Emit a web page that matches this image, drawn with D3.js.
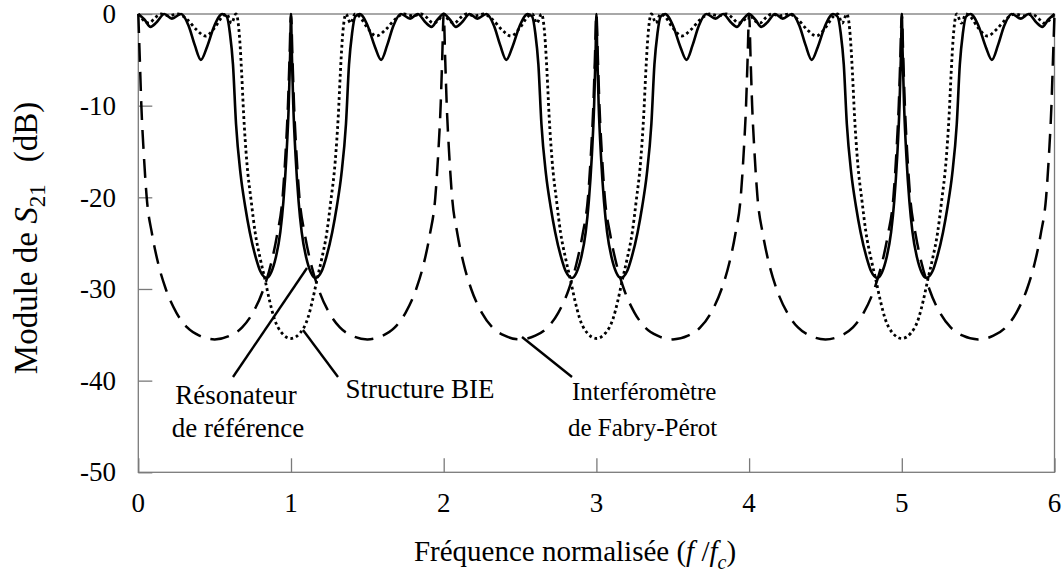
<!DOCTYPE html>
<html><head><meta charset="utf-8">
<script src="https://cdn.jsdelivr.net/npm/d3@7"></script>
<style>body{margin:0;background:#fff}svg{display:block}</style>
</head><body>
<script>
const xTicks = [0,1,2,3,4,5,6];
const yTicks = [0,-10,-20,-30,-40,-50];
const xTickLabels = ["0","1","2","3","4","5","6"];
const yTickLabels = ["0","-10","-20","-30","-40","-50"];

// Résonateur de référence (solid)
const resF = [0,0.04,0.08,0.12,0.17,0.22,0.28,0.33,0.37,0.41,0.45,0.5,0.55,0.58,0.6,0.62,0.64,0.67,0.7,0.73,0.77,0.8,0.84,0.87,0.9,0.93,0.95,0.97,0.985,0.995,1,1.005,1.015,1.03,1.05,1.07,1.1,1.13,1.16,1.2,1.23,1.27,1.3,1.33,1.36,1.38,1.4,1.42,1.45,1.5,1.55,1.59,1.63,1.67,1.72,1.78,1.83,1.88,1.92,1.96,
2,2.04,2.08,2.12,2.17,2.22,2.28,2.33,2.37,2.41,2.45,2.5,2.55,2.58,2.6,2.62,2.64,2.67,2.7,2.73,2.77,2.8,2.84,2.87,2.9,2.93,2.95,2.97,2.985,2.995,3,3.005,3.015,3.03,3.05,3.07,3.1,3.13,3.16,3.2,3.23,3.27,3.3,3.33,3.36,3.38,3.4,3.42,3.45,3.5,3.55,3.59,3.63,3.67,3.72,3.78,3.83,3.88,3.92,3.96,
4,4.04,4.08,4.12,4.17,4.22,4.28,4.33,4.37,4.41,4.45,4.5,4.55,4.58,4.6,4.62,4.64,4.67,4.7,4.73,4.77,4.8,4.84,4.87,4.9,4.93,4.95,4.97,4.985,4.995,5,5.005,5.015,5.03,5.05,5.07,5.1,5.13,5.16,5.2,5.23,5.27,5.3,5.33,5.36,5.38,5.4,5.42,5.45,5.5,5.55,5.59,5.63,5.67,5.72,5.78,5.83,5.88,5.92,5.96,6];
const resDB = [0,-0.6,-1.4,-0.9,0,-0.5,0,-1.3,-3.4,-5,-3.6,-1.2,0,-0.3,-2.1,-5.5,-12,-17.5,-21,-23.8,-26.6,-28.1,-28.8,-28.2,-26.6,-23.8,-20.5,-15.5,-10,-4,0,-4,-10,-15.5,-20.5,-23.8,-26.6,-28.2,-28.8,-28.1,-26.6,-23.8,-21,-17.5,-12,-5.5,-2.1,-0.3,0,-1.2,-3.6,-5,-3.4,-1.3,0,-0.5,0,-0.9,-1.4,-0.6,
0,-0.6,-1.4,-0.9,0,-0.5,0,-1.3,-3.4,-5,-3.6,-1.2,0,-0.3,-2.1,-5.5,-12,-17.5,-21,-23.8,-26.6,-28.1,-28.8,-28.2,-26.6,-23.8,-20.5,-15.5,-10,-4,0,-4,-10,-15.5,-20.5,-23.8,-26.6,-28.2,-28.8,-28.1,-26.6,-23.8,-21,-17.5,-12,-5.5,-2.1,-0.3,0,-1.2,-3.6,-5,-3.4,-1.3,0,-0.5,0,-0.9,-1.4,-0.6,
0,-0.6,-1.4,-0.9,0,-0.5,0,-1.3,-3.4,-5,-3.6,-1.2,0,-0.3,-2.1,-5.5,-12,-17.5,-21,-23.8,-26.6,-28.1,-28.8,-28.2,-26.6,-23.8,-20.5,-15.5,-10,-4,0,-4,-10,-15.5,-20.5,-23.8,-26.6,-28.2,-28.8,-28.1,-26.6,-23.8,-21,-17.5,-12,-5.5,-2.1,-0.3,0,-1.2,-3.6,-5,-3.4,-1.3,0,-0.5,0,-0.9,-1.4,-0.6,0];

// Structure BIE (dotted)
const bieF = [0,0.035,0.07,0.11,0.15,0.2,0.26,0.32,0.38,0.44,0.5,0.55,0.58,0.61,0.64,0.665,0.677,0.69,0.71,0.74,0.765,0.8,0.83,0.86,0.89,0.94,1,1.06,1.11,1.14,1.17,1.2,1.235,1.26,1.29,1.31,1.323,1.335,1.36,1.39,1.42,1.45,1.5,1.56,1.62,1.68,1.74,1.8,1.85,1.89,1.93,1.965,
2,2.035,2.07,2.11,2.15,2.2,2.26,2.32,2.38,2.44,2.5,2.55,2.58,2.61,2.64,2.665,2.677,2.69,2.71,2.74,2.765,2.8,2.83,2.86,2.89,2.94,3,3.06,3.11,3.14,3.17,3.2,3.235,3.26,3.29,3.31,3.323,3.335,3.36,3.39,3.42,3.45,3.5,3.56,3.62,3.68,3.74,3.8,3.85,3.89,3.93,3.965,
4,4.035,4.07,4.11,4.15,4.2,4.26,4.32,4.38,4.44,4.5,4.55,4.58,4.61,4.64,4.665,4.677,4.69,4.71,4.74,4.765,4.8,4.83,4.86,4.89,4.94,5,5.06,5.11,5.14,5.17,5.2,5.235,5.26,5.29,5.31,5.323,5.335,5.36,5.39,5.42,5.45,5.5,5.56,5.62,5.68,5.74,5.8,5.85,5.89,5.93,5.965,6];
const bieDB = [0,-0.7,-1,-0.4,0,-0.2,0,-0.6,-1.7,-2.4,-1.5,-0.3,0,-1,0,-3,-6.5,-11,-16,-20.5,-23.8,-26.8,-29,-31.3,-33.2,-34.8,-35.4,-34.8,-33.2,-31.3,-29,-26.8,-23.8,-20.5,-16,-11,-6.5,-3,0,-1,0,-0.3,-1.5,-2.4,-1.7,-0.6,0,-0.2,0,-0.4,-1,-0.7,
0,-0.7,-1,-0.4,0,-0.2,0,-0.6,-1.7,-2.4,-1.5,-0.3,0,-1,0,-3,-6.5,-11,-16,-20.5,-23.8,-26.8,-29,-31.3,-33.2,-34.8,-35.4,-34.8,-33.2,-31.3,-29,-26.8,-23.8,-20.5,-16,-11,-6.5,-3,0,-1,0,-0.3,-1.5,-2.4,-1.7,-0.6,0,-0.2,0,-0.4,-1,-0.7,
0,-0.7,-1,-0.4,0,-0.2,0,-0.6,-1.7,-2.4,-1.5,-0.3,0,-1,0,-3,-6.5,-11,-16,-20.5,-23.8,-26.8,-29,-31.3,-33.2,-34.8,-35.4,-34.8,-33.2,-31.3,-29,-26.8,-23.8,-20.5,-16,-11,-6.5,-3,0,-1,0,-0.3,-1.5,-2.4,-1.7,-0.6,0,-0.2,0,-0.4,-1,-0.7,0];

// Interféromètre de Fabry-Pérot (dashed)
const fpF = [0,0.01,0.02,0.035,0.055,0.09,0.13,0.18,0.25,0.32,0.4,0.5,0.6,0.68,0.75,0.82,0.87,0.91,0.945,0.965,0.98,0.99,
1,1.01,1.02,1.035,1.055,1.09,1.13,1.18,1.25,1.32,1.4,1.5,1.6,1.68,1.75,1.82,1.87,1.91,1.945,1.965,1.98,1.99,
2,2.01,2.02,2.035,2.055,2.09,2.13,2.18,2.25,2.32,2.4,2.5,2.6,2.68,2.75,2.82,2.87,2.91,2.945,2.965,2.98,2.99,
3,3.01,3.02,3.035,3.055,3.09,3.13,3.18,3.25,3.32,3.4,3.5,3.6,3.68,3.75,3.82,3.87,3.91,3.945,3.965,3.98,3.99,
4,4.01,4.02,4.035,4.055,4.09,4.13,4.18,4.25,4.32,4.4,4.5,4.6,4.68,4.75,4.82,4.87,4.91,4.945,4.965,4.98,4.99,
5,5.01,5.02,5.035,5.055,5.09,5.13,5.18,5.25,5.32,5.4,5.5,5.6,5.68,5.75,5.82,5.87,5.91,5.945,5.965,5.98,5.99,6];
const fpDB = [0,-5,-10,-15,-20,-24,-27.2,-30,-32.6,-34.2,-35.1,-35.5,-35.1,-34.2,-32.6,-30,-27.2,-24,-20,-15,-10,-5,
0,-5,-10,-15,-20,-24,-27.2,-30,-32.6,-34.2,-35.1,-35.5,-35.1,-34.2,-32.6,-30,-27.2,-24,-20,-15,-10,-5,
0,-5,-10,-15,-20,-24,-27.2,-30,-32.6,-34.2,-35.1,-35.5,-35.1,-34.2,-32.6,-30,-27.2,-24,-20,-15,-10,-5,
0,-5,-10,-15,-20,-24,-27.2,-30,-32.6,-34.2,-35.1,-35.5,-35.1,-34.2,-32.6,-30,-27.2,-24,-20,-15,-10,-5,
0,-5,-10,-15,-20,-24,-27.2,-30,-32.6,-34.2,-35.1,-35.5,-35.1,-34.2,-32.6,-30,-27.2,-24,-20,-15,-10,-5,
0,-5,-10,-15,-20,-24,-27.2,-30,-32.6,-34.2,-35.1,-35.5,-35.1,-34.2,-32.6,-30,-27.2,-24,-20,-15,-10,-5,0];

const W = 1064, H = 576;
const FONT = "Liberation Serif";
const x = d3.scaleLinear().domain([0,6]).range([138.3,1054.5]);
const y = d3.scaleLinear().domain([-50,0]).range([472.3,14]);

const svg = d3.select("body").append("svg").attr("width",W).attr("height",H)
  .attr("font-family",FONT);

function pts(F, D){ const n=Math.min(F.length,D.length); const a=[]; for(let i=0;i<n;i++) a.push([F[i],D[i]]); return a; }
const line = d3.line().x(d=>x(d[0])).y(d=>y(d[1])).curve(d3.curveMonotoneX);

// frame
const axisCol = "#7a7a7a";
svg.append("rect").attr("x",x(0)).attr("y",y(0)).attr("width",x(6)-x(0)).attr("height",y(-50)-y(0))
  .attr("fill","none").attr("stroke",axisCol).attr("stroke-width",1.3);

// y axis (ticks inside)
const yAxis = d3.axisRight(y).tickValues(yTicks).tickSize(14).tickFormat("");
const gy = svg.append("g").attr("transform",`translate(${x(0)},0)`).call(yAxis);
gy.select(".domain").remove();
gy.selectAll("line").attr("stroke",axisCol).attr("stroke-width",1.3);
svg.append("g").selectAll("text").data(yTicks).enter().append("text")
  .attr("font-family",FONT)
  .attr("x",116).attr("y",d=>y(d)).attr("dy","0.34em").attr("text-anchor","end")
  .attr("font-size",27).attr("fill","#000").text((d,i)=>yTickLabels[i]);

// x axis (ticks inside)
const xAxis = d3.axisTop(x).tickValues(xTicks).tickSize(14).tickFormat("");
const gx = svg.append("g").attr("transform",`translate(0,${y(-50)})`).call(xAxis);
gx.select(".domain").remove();
gx.selectAll("line").attr("stroke",axisCol).attr("stroke-width",1.3);
svg.append("g").selectAll("text").data(xTicks).enter().append("text")
  .attr("font-family",FONT)
  .attr("x",d=>x(d)).attr("y",512).attr("text-anchor","middle")
  .attr("font-size",27).attr("fill","#000").text((d,i)=>xTickLabels[i]);

// series
svg.append("path").datum(pts(fpF,fpDB)).attr("d",line).attr("fill","none")
  .attr("stroke","#000").attr("stroke-width",2.5).attr("stroke-dasharray","19,10");
svg.append("path").datum(pts(bieF,bieDB)).attr("d",line).attr("fill","none")
  .attr("stroke","#000").attr("stroke-width",2.8).attr("stroke-dasharray","2.8,3");
svg.append("path").datum(pts(resF,resDB)).attr("d",line).attr("fill","none")
  .attr("stroke","#000").attr("stroke-width",2.6);

// annotations
const ann = svg.append("g");
function lead(x1,y1,x2,y2){ ann.append("line").attr("x1",x1).attr("y1",y1).attr("x2",x2).attr("y2",y2).attr("stroke","#000").attr("stroke-width",2.4); }
lead(233,377,307,268);
lead(303,330,338,377);
lead(522,337,572,377);
function label(xx, by, s, anchor, fs){
  ann.append("text").attr("font-family",FONT).attr("x",xx).attr("y",by).attr("text-anchor",anchor).attr("font-size",fs||27).attr("fill","#000").text(s);
}
label(236,404,"Résonateur","middle");
label(238,437,"de référence","middle");
label(420,398,"Structure BIE","middle");
label(572,400,"Interféromètre","start",25);
label(568,436,"de Fabry-Pérot","start",25);

// axis titles
const yt = svg.append("text").attr("font-family",FONT).attr("transform","translate(37,238) rotate(-90)").attr("text-anchor","middle").attr("font-size",33);
yt.append("tspan").text("Module de ");
yt.append("tspan").attr("font-style","italic").text("S");
yt.append("tspan").attr("font-size",23).attr("dy",8).text("21");
yt.append("tspan").attr("dy",-8).attr("dx",22).text("(dB)");

const xt = svg.append("text").attr("font-family",FONT).attr("x",575).attr("y",561).attr("text-anchor","middle").attr("font-size",29);
xt.append("tspan").text("Fréquence normalisée (");
xt.append("tspan").attr("font-style","italic").text("f");
xt.append("tspan").text(" /");
xt.append("tspan").attr("font-style","italic").text("f");
xt.append("tspan").attr("font-size",20).attr("font-style","italic").attr("dy",8).text("c");
xt.append("tspan").attr("dy",-8).text(")");
</script>
</body></html>
